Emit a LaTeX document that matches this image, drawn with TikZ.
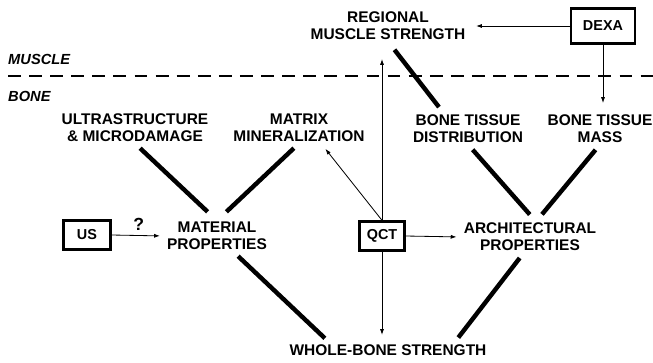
\documentclass[tikz,border=0pt]{standalone}
\usepackage{fontspec}
\setmainfont{Liberation Sans}
\usetikzlibrary{arrows.meta,calc}
\tikzset{
  lbl/.style={align=center,font=\fontsize{13.2}{14.6}\selectfont\bfseries,inner sep=1pt},
  tool/.style={draw,line width=2pt,font=\fontsize{12.3}{14}\selectfont\bfseries,inner sep=0pt},
  side/.style={anchor=west,font=\fontsize{12.5}{14}\selectfont\bfseries\itshape,inner sep=0pt},
  link/.style={line width=3.8pt,shorten <=6pt,shorten >=6pt},
  meas/.style={-{Latex[length=5pt,width=3.5pt]},line width=0.7pt},
}

\begin{document}
\begin{tikzpicture}[x=0.03cm,y=-0.03cm]
  \useasboundingbox (0,0) rectangle (653,362);
  % muscle / bone split
  \node[side] (muscle) at (8,59) {MUSCLE};
  \node[side] (bone) at (8,96) {BONE};
  \draw[line width=1.7pt,dash pattern=on 11pt off 7pt] (8,76) -- (653,76);
  % labels
  \node[lbl] (reg) at (388,26) {REGIONAL\\MUSCLE STRENGTH};
  \node[lbl] (ultra) at (135,128) {ULTRASTRUCTURE\\\& MICRODAMAGE};
  \node[lbl] (matrix) at (299,128) {MATRIX\\MINERALIZATION};
  \node[lbl] (btd) at (468,129) {BONE TISSUE\\DISTRIBUTION};
  \node[lbl] (mass) at (600,129) {BONE TISSUE\\MASS};
  \node[lbl] (mat) at (217,236) {MATERIAL\\PROPERTIES};
  \node[lbl] (arch) at (530,237) {ARCHITECTURAL\\PROPERTIES};
  \node[lbl] (whole) at (388,350) {WHOLE-BONE STRENGTH};
  % techniques
  \node[tool,minimum width=1.92cm,minimum height=1.05cm] (dexa) at (603,26) {DEXA};
  \node[tool,minimum width=1.41cm,minimum height=0.87cm] (us) at (87,235) {US};
  \node[tool,minimum width=1.35cm,minimum height=0.87cm] (qct) at (382,236) {QCT};
  % thick links
  \draw[link,shorten >=11pt] (ultra.south) -- (mat.north);
  \draw[link,shorten >=11pt] (matrix.south) -- (mat.north);
  \draw[link,shorten >=8pt] (btd.south) -- ($(arch.north)+(6,0)$);
  \draw[link,shorten >=8pt] (mass.south) -- ($(arch.north)+(6,0)$);
  \draw[link] ($(mat.south)+(16,0)$) -- ($(whole.north)+(-58,0)$);
  \draw[link] ($(arch.south)+(-6,0)$) -- ($(whole.north)+(66,0)$);
  \draw[link,shorten <=9pt,shorten >=7pt] (reg.south) -- ($(btd.north)+(-24,0)$);
  % measurement arrows
  \draw[meas,shorten >=8pt] (dexa.west) -- (reg.east);
  \draw[meas,shorten >=9pt] (dexa.south) -- (dexa.south |- mass.north);
  \draw[meas,shorten >=15pt] (qct.north) -- (qct.north |- reg.south);
  \draw[meas,shorten >=6pt] (qct.north) -- ($(matrix.south)+(22,0)$);
  \draw[meas,shorten >=5pt] (qct.east) -- (arch.west);
  \draw[meas,shorten >=7pt] (qct.south) -- (qct.south |- whole.north);
  \draw[meas,shorten >=5pt] (us.east) -- node[lbl,above=3pt,font=\fontsize{15}{16}\selectfont\bfseries] {?} (mat.west);
\end{tikzpicture}
\end{document}
